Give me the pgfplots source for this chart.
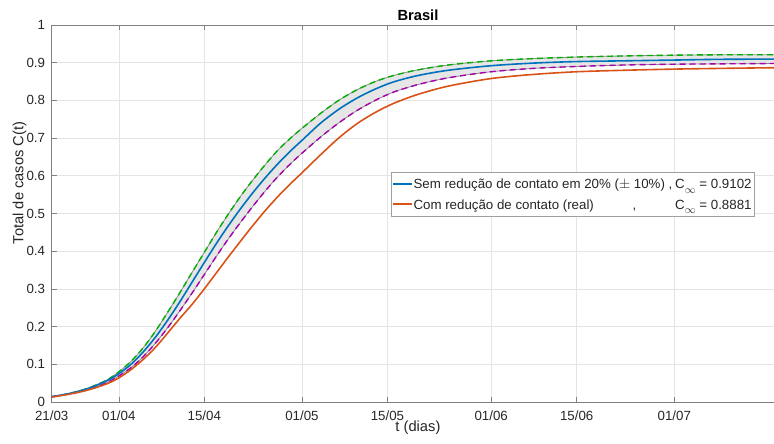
\documentclass[border=0pt]{standalone}
\usepackage{fontspec}
\setmainfont{Liberation Sans}
\setsansfont{Liberation Sans}
\usepackage{pgfplots}
\usepackage{pgfplotstable}
\pgfplotsset{compat=1.18}
\definecolor{mblue}{HTML}{0072BD}
\definecolor{morange}{HTML}{D95319}
\definecolor{mgreen}{HTML}{00B000}
\definecolor{mpurple}{HTML}{A800B0}
\definecolor{axgray}{HTML}{808080}
\definecolor{gridgray}{HTML}{E4E4E4}
\definecolor{txt}{HTML}{262626}
\definecolor{bandfill}{HTML}{E6E6E6}
\definecolor{bandedge}{HTML}{8C8C8C}
\definecolor{legframe}{HTML}{A0A0A0}

% x = days since 21/03; g = upper (+10%), b = central, p = lower (-10%), o = real
\pgfplotstableread{
x    g      b      p      o
0    0.014  0.014  0.014  0.013
3    0.023  0.023  0.022  0.021
6    0.037  0.036  0.033  0.032
9    0.058  0.056  0.051  0.048
11   0.080  0.075  0.069  0.064
13   0.108  0.100  0.091  0.086
15   0.144  0.133  0.120  0.113
17   0.188  0.172  0.156  0.145
19   0.238  0.217  0.197  0.183
21   0.290  0.266  0.242  0.222
23   0.344  0.318  0.289  0.259
25   0.397  0.370  0.338  0.300
27   0.450  0.421  0.387  0.343
29   0.500  0.469  0.434  0.386
31   0.547  0.514  0.478  0.428
33   0.590  0.556  0.520  0.469
35   0.630  0.595  0.560  0.508
37   0.667  0.631  0.597  0.544
39   0.698  0.664  0.630  0.577
41   0.726  0.694  0.660  0.608
44   0.765  0.739  0.702  0.655
47   0.800  0.776  0.740  0.700
50   0.828  0.806  0.773  0.738
53   0.850  0.830  0.800  0.768
56   0.866  0.849  0.822  0.792
60   0.881  0.866  0.842  0.816
65   0.894  0.880  0.860  0.838
72   0.905  0.892  0.876  0.858
79   0.911  0.899  0.885  0.869
86   0.915  0.903  0.890  0.876
94   0.918  0.905  0.894  0.880
102  0.920  0.907  0.896  0.883
110  0.921  0.909  0.897  0.885
120  0.921  0.9095 0.898  0.887
}\curves

\newcommand{\legfont}{\fontsize{13.3bp}{16bp}\selectfont}
\newcommand{\cinf}{C\raisebox{-4.5bp}{\fontsize{10.5bp}{10.5bp}\selectfont$\infty$}}

\begin{document}
\begin{tikzpicture}
\begin{axis}[
  scale only axis,
  width=732.5bp, height=377bp,
  xmin=0, xmax=120, ymin=0, ymax=1,
  xtick={0,11,25,41,55,72,86,102},
  xticklabels={21/03,01/04,15/04,01/05,15/05,01/06,15/06,01/07},
  ytick={0,0.1,0.2,0.3,0.4,0.5,0.6,0.7,0.8,0.9,1},
  yticklabels={0,0.1,0.2,0.3,0.4,0.5,0.6,0.7,0.8,0.9,1},
  tick align=inside, major tick length=5bp,
  tick style={axgray, line width=0.6bp},
  axis line style={axgray, line width=0.7bp},
  grid=major, major grid style={gridgray, line width=0.6bp},
  ticklabel style={font=\fontsize{13.3bp}{16bp}\selectfont, text=txt},
  xticklabel style={anchor=base, yshift=-18bp, inner sep=0pt},
  yticklabel style={anchor=east, inner sep=0pt, xshift=-6.5bp},
  title={Brasil},
  every axis title/.style={font=\fontsize{14.7bp}{17bp}\selectfont\bfseries, at={(axis description cs:0.5,1)}, anchor=base, yshift=4.3bp, inner sep=0pt, text=black},
  xlabel={t (dias)},
  every axis x label/.style={font=\fontsize{14.7bp}{17bp}\selectfont, at={(axis description cs:0.5,-0.0785)}, anchor=base, inner sep=0pt, text=txt},
  ylabel={Total de casos C(t)},
  every axis y label/.style={font=\fontsize{14.7bp}{17bp}\selectfont, at={(axis description cs:-0.0385,0.581)}, rotate=90, anchor=base, inner sep=0pt, text=txt},
]
% shaded band between upper and lower curves
\addplot[draw=none, fill=bandfill, forget plot] coordinates {
(0,0.014) (3,0.023) (6,0.037) (9,0.058) (11,0.080) (13,0.108) (15,0.144) (17,0.188) (19,0.238) (21,0.290) (23,0.344) (25,0.397) (27,0.450) (29,0.500) (31,0.547) (33,0.590) (35,0.630) (37,0.667) (39,0.698) (41,0.726) (44,0.765) (47,0.800) (50,0.828) (53,0.850) (56,0.866) (60,0.881) (65,0.894) (72,0.905) (79,0.911) (86,0.915) (94,0.918) (102,0.920) (110,0.921) (120,0.921)
(120,0.898) (110,0.897) (102,0.896) (94,0.894) (86,0.890) (79,0.885) (72,0.876) (65,0.860) (60,0.842) (56,0.822) (53,0.800) (50,0.773) (47,0.740) (44,0.702) (41,0.660) (39,0.630) (37,0.597) (35,0.560) (33,0.520) (31,0.478) (29,0.434) (27,0.387) (25,0.338) (23,0.289) (21,0.242) (19,0.197) (17,0.156) (15,0.120) (13,0.091) (11,0.069) (9,0.051) (6,0.033) (3,0.022) (0,0.014)
};
\addplot[draw=bandedge, line width=0.8bp, smooth, forget plot] table[x=x, y=g] {\curves};
\addplot[draw=bandedge, line width=0.8bp, smooth, forget plot] table[x=x, y=p] {\curves};
\addplot[draw=mgreen, line width=1.4bp, smooth, dash pattern=on 6bp off 4bp, forget plot] table[x=x, y=g] {\curves};
\addplot[draw=mpurple, line width=1.4bp, smooth, dash pattern=on 6bp off 4bp, forget plot] table[x=x, y=p] {\curves};
\addplot[draw=mblue, line width=1.6bp, smooth, forget plot] table[x=x, y=b] {\curves};
\addplot[draw=morange, line width=1.6bp, smooth, forget plot] table[x=x, y=o] {\curves};
% legend
\draw[draw=legframe, fill=white, line width=0.6bp] (rel axis cs:0.4632,0.4934) rectangle (rel axis cs:0.9588,0.6082);
\draw[draw=mblue, line width=1.6bp] (rel axis cs:0.4664,0.5782) -- (rel axis cs:0.4915,0.5782);
\draw[draw=morange, line width=1.6bp] (rel axis cs:0.4664,0.5252) -- (rel axis cs:0.4915,0.5252);
\node[anchor=base west, inner sep=0pt, font=\legfont, text=txt] at (rel axis cs:0.4937,0.5650)
  {\makebox[261.7bp][l]{Sem redução de contato em 20\% ($\pm$ 10\%) ,}\cinf{} = 0.9102};
\node[anchor=base west, inner sep=0pt, font=\legfont, text=txt] at (rel axis cs:0.4937,0.5119)
  {\makebox[219bp][l]{Com redução de contato (real)}\makebox[42.7bp][l]{,}\cinf{} = 0.8881};
\end{axis}
\pgfresetboundingbox
\path ([shift={(-51.7bp,-42bp)}]current axis.south west) rectangle ([shift={(722.3bp,25bp)}]current axis.north west);
\end{tikzpicture}
\end{document}
